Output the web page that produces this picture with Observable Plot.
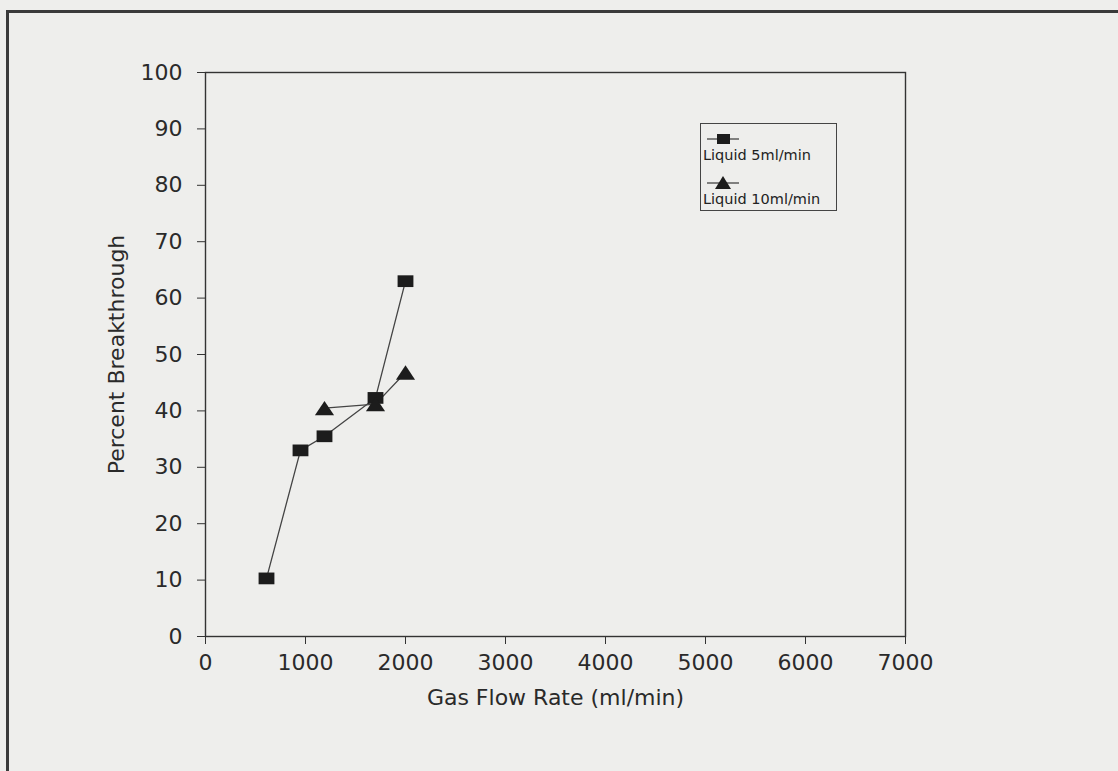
<!DOCTYPE html>
<html>
<head>
<meta charset="utf-8">
<script src="https://cdn.jsdelivr.net/npm/d3@7"></script>
<script src="https://cdn.jsdelivr.net/npm/@observablehq/plot@0.6"></script>
<style>
  html, body { margin: 0; padding: 0; background: #eeeeec; }
  #wrap { position: relative; width: 1118px; height: 771px; overflow: hidden; background: #eeeeec; }
  #page { position: absolute; left: 6px; top: 10px; width: 1200px; height: 900px;
          border-top: 3px solid #3a3a3a; border-left: 3px solid #3a3a3a; box-sizing: border-box; }
  #chart { position: absolute; left: 0; top: 0; }
  #legend { position: absolute; left: 700px; top: 123px; width: 137px; height: 88px;
            border: 1.3px solid #444; box-sizing: border-box; font-family: "DejaVu Sans", sans-serif;
            font-size: 14.5px; color: #222; white-space: nowrap; }
  #legend .row { position: absolute; left: 2px; }
  #legend svg { position: absolute; left: 4px; }
</style>
</head>
<body>
<div id="wrap">
  <div id="page"></div>
  <div id="chart"></div>
  <div id="legend"></div>
</div>
<script>
// Data
const seriesNames = ["Liquid 5ml/min", "Liquid 10ml/min"];
const gasFlow5 = [610, 950, 1190, 1700, 2000];
const breakthrough5 = [10.3, 33.0, 35.5, 42.3, 63.0];
const gasFlow10 = [1190, 1700, 2000];
const breakthrough10 = [40.5, 41.2, 46.8];
const xTicks = [0, 1000, 2000, 3000, 4000, 5000, 6000, 7000];
const yTicks = [0, 10, 20, 30, 40, 50, 60, 70, 80, 90, 100];

const rows5 = gasFlow5.map((x, i) => ({x, y: breakthrough5[i], s: seriesNames[0]}));
const rows10 = gasFlow10.map((x, i) => ({x, y: breakthrough10[i], s: seriesNames[1]}));

const rectSymbol = {
  draw(context, size) {
    const s = Math.sqrt(size);
    const w = s * 0.62, h = s * 0.46;
    context.rect(-w, -h, 2 * w, 2 * h);
  }
};
const triSymbol = {
  draw(context, size) {
    const s = Math.sqrt(size);
    const w = s * 0.6, h = s * 0.45;
    context.moveTo(0, -h);
    context.lineTo(w, h);
    context.lineTo(-w, h);
    context.closePath();
  }
};

const ink = "#2a2a2a";
const chart = Plot.plot({
  width: 1118,
  height: 771,
  marginLeft: 205,
  marginRight: 213,
  marginTop: 72,
  marginBottom: 135,
  style: { background: "transparent", fontFamily: "DejaVu Sans, sans-serif", color: ink },
  x: { domain: [0, 7000] },
  y: { domain: [0, 100] },
  marks: [
    Plot.frame({ stroke: "#333", strokeWidth: 1.4 }),
    Plot.axisY({ ticks: yTicks, tickSize: 8, tickPadding: 15, fontSize: 22, tickFormat: d => String(d),
                 label: "Percent Breakthrough", labelAnchor: "center", labelArrow: "none", labelOffset: 97,
                 stroke: "#333" }),
    Plot.axisX({ ticks: xTicks, tickSize: 8, tickPadding: 10, fontSize: 22, tickFormat: d => String(d),
                 label: "Gas Flow Rate (ml/min)", labelAnchor: "center", labelArrow: "none", labelOffset: 68,
                 stroke: "#333" }),
    Plot.line(rows5, { x: "x", y: "y", stroke: "#444", strokeWidth: 1.3 }),
    Plot.line(rows10, { x: "x", y: "y", stroke: "#444", strokeWidth: 1.3 }),
    Plot.dot(rows5, { x: "x", y: "y", symbol: rectSymbol, r: 7.2, fill: "#1c1c1c", stroke: "none" }),
    Plot.dot(rows10, { x: "x", y: "y", symbol: triSymbol, r: 9, fill: "#1c1c1c", stroke: "none" })
  ]
});
document.getElementById("chart").appendChild(chart);

// Legend
const lg = document.getElementById("legend");
const items = [
  { name: seriesNames[0], shape: "rect", top: 7, textTop: 23 },
  { name: seriesNames[1], shape: "tri", top: 51, textTop: 67 }
];
items.forEach(it => {
  const svg = d3.create("svg").attr("width", 36).attr("height", 16).style("top", it.top + "px");
  svg.append("line").attr("x1", 2).attr("x2", 34).attr("y1", 8).attr("y2", 8).attr("stroke", "#444").attr("stroke-width", 1.3);
  if (it.shape === "rect") svg.append("rect").attr("x", 12).attr("y", 3).attr("width", 13).attr("height", 10).attr("fill", "#1c1c1c");
  else svg.append("path").attr("d", "M18,1 L26,14 L10,14 Z").attr("fill", "#1c1c1c");
  lg.appendChild(svg.node());
  const d = document.createElement("div");
  d.className = "row";
  d.style.top = it.textTop + "px";
  d.textContent = it.name;
  lg.appendChild(d);
});
</script>
</body>
</html>
